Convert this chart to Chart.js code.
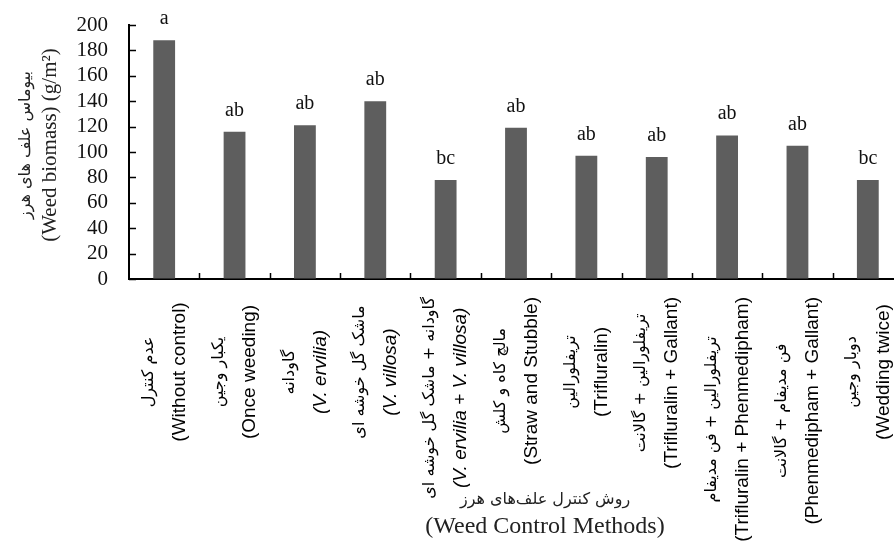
<!DOCTYPE html>
<html>
<head>
<meta charset="utf-8">
<script src="https://cdn.jsdelivr.net/npm/chart.js@4.4.1/dist/chart.umd.min.js"></script>
<style>
  html, body { margin: 0; padding: 0; background: #fff; overflow: hidden; }
  #wrap { width: 903px; height: 543px; position: relative; }
</style>
</head>
<body>
<div id="wrap"><canvas id="chart"></canvas></div>
<script>
// Weed control treatments (Persian name + English name)
const categoriesFa = [
  'عدم کنترل',
  'یکبار وجین',
  'گاودانه',
  'ماشک گل خوشه ای',
  'گاودانه + ماشک گل خوشه ای',
  'مالچ کاه و کلش',
  'تریفلورالین',
  'تریفلورالین + گالانت',
  'تریفلورالین + فن مدیفام',
  'فن مدیفام + گالانت',
  'دوبار وجین'
];
const categoriesEn = [
  '(Without control)',
  '(Once weeding)',
  '(V. ervilia)',
  '(V. villosa)',
  '(V. ervilia + V. villosa)',
  '(Straw and Stubble)',
  '(Trifluralin)',
  '(Trifluralin + Gallant)',
  '(Trifluralin + Phenmedipham)',
  '(Phenmedipham + Gallant)',
  '(Wedding twice)'
];
// Weed biomass, g/m²
const biomass = [188, 116, 121, 140, 78, 119, 97, 96, 113, 105, 78];
// Mean-comparison groups
const groupLetters = ['a', 'ab', 'ab', 'ab', 'bc', 'ab', 'ab', 'ab', 'ab', 'ab', 'bc'];
// Y axis ticks
const yTickValues = [0, 20, 40, 60, 80, 100, 120, 140, 160, 180, 200];

const yTitleFa = 'بیوماس علف های هرز';
const yTitleEn = '(Weed biomass) (g/m²)';
const xTitleFa = 'روش کنترل علف‌های هرز';
const xTitleEn = '(Weed Control Methods)';

const SERIF = '"Liberation Serif", "Times New Roman", serif';
const SANS = '"Liberation Sans", Arial, sans-serif';
const ARABIC = '"DejaVu Sans", sans-serif';

function drawText(ctx, text, x, y, font, opts = {}) {
  ctx.save();
  ctx.translate(x, y);
  if (opts.rotate) ctx.rotate(opts.rotate);
  ctx.font = font;
  ctx.fillStyle = opts.color || '#000';
  ctx.direction = opts.dir || 'ltr';
  ctx.textAlign = opts.align || 'center';
  ctx.textBaseline = opts.baseline || 'middle';
  ctx.fillText(text, 0, 0);
  ctx.restore();
}

// Inward tick marks, group letters, rotated category labels and axis titles
const decorations = {
  id: 'decorations',
  afterDatasetsDraw(chart) {
    const ctx = chart.ctx;
    const meta = chart.getDatasetMeta(0);
    meta.data.forEach((bar, i) => {
      drawText(ctx, groupLetters[i], bar.x, bar.y - 16, '20px ' + SERIF,
        { baseline: 'alphabetic', color: '#111' });
    });
  },
  afterDraw(chart) {
    const ctx = chart.ctx;
    const area = chart.chartArea;
    const xs = chart.scales.x;
    const ys = chart.scales.y;

    ctx.save();
    ctx.strokeStyle = '#000';
    ctx.lineWidth = 1.5;
    ctx.beginPath();
    ys.ticks.forEach(t => {
      const y = Math.round(ys.getPixelForValue(t.value)) + 0.5;
      ctx.moveTo(area.left, y);
      ctx.lineTo(area.left + 7, y);
    });
    for (let i = 0; i < categoriesEn.length - 1; i++) {
      const x = Math.round((xs.getPixelForValue(i) + xs.getPixelForValue(i + 1)) / 2) + 0.5;
      ctx.moveTo(x, area.bottom);
      ctx.lineTo(x, area.bottom - 6);
    }
    ctx.stroke();
    ctx.restore();

    // category labels, read bottom-to-top, Persian line above English line
    const enFontFor = s => (/V\./.test(s) ? 'italic ' : '') + '19px ' + SANS;
    const faFont = '16px ' + ARABIC;
    categoriesEn.forEach((en, i) => {
      const cx = xs.getPixelForValue(i);
      ctx.font = enFontFor(en);
      const wEn = ctx.measureText(en).width;
      ctx.font = faFont;
      const wFa = ctx.measureText(categoriesFa[i]).width;
      const longest = Math.max(wEn, wFa);
      const cy = Math.max(area.bottom + 93, area.bottom + 18 + longest / 2);
      drawText(ctx, categoriesFa[i], cx - 15.5, cy, faFont, { rotate: -Math.PI / 2, dir: 'rtl' });
      drawText(ctx, en, cx + 15.5, cy, enFontFor(en), { rotate: -Math.PI / 2 });
    });

    // x axis title
    const tx = (area.left + area.right) / 2 + 29;
    drawText(ctx, xTitleFa, tx, area.bottom + 221, '16px ' + ARABIC, { dir: 'rtl', color: '#222' });
    drawText(ctx, xTitleEn, tx, area.bottom + 248, '24px ' + SERIF, { color: '#222' });

    // y axis title
    const ty = (area.top + area.bottom) / 2 - 7;
    drawText(ctx, yTitleFa, 26, ty, '16px ' + ARABIC, { rotate: -Math.PI / 2, dir: 'rtl', color: '#222' });
    drawText(ctx, yTitleEn, 50, ty, '21px ' + SERIF, { rotate: -Math.PI / 2, color: '#222' });
  }
};

new Chart(document.getElementById('chart'), {
  type: 'bar',
  data: {
    labels: categoriesEn,
    datasets: [{
      data: biomass,
      backgroundColor: '#5e5e5e',
      borderWidth: 0,
      categoryPercentage: 1,
      barPercentage: 0.31
    }]
  },
  options: {
    responsive: true,
    maintainAspectRatio: false,
    animation: false,
    layout: { padding: { top: 25, left: 0, right: 0, bottom: 0 } },
    plugins: { legend: { display: false }, tooltip: { enabled: false } },
    scales: {
      x: {
        ticks: { display: false },
        grid: { display: false, drawTicks: false },
        border: { display: true, color: '#000', width: 2 },
        afterFit: s => { s.height = 264; }
      },
      y: {
        min: 0,
        max: 200,
        afterBuildTicks: s => { s.ticks = yTickValues.map(v => ({ value: v })); },
        ticks: {
          autoSkip: false,
          padding: 0,
          color: '#111',
          font: { family: SERIF, size: 21 }
        },
        // invisible outer tick marks keep the labels clear of the axis line
        grid: { display: true, drawOnChartArea: false, drawTicks: true, tickLength: 21, color: 'rgba(0,0,0,0)' },
        border: { display: true, color: '#000', width: 2 },
        afterFit: s => { s.width = 129; }
      }
    }
  },
  plugins: [decorations]
});
</script>
</body>
</html>
